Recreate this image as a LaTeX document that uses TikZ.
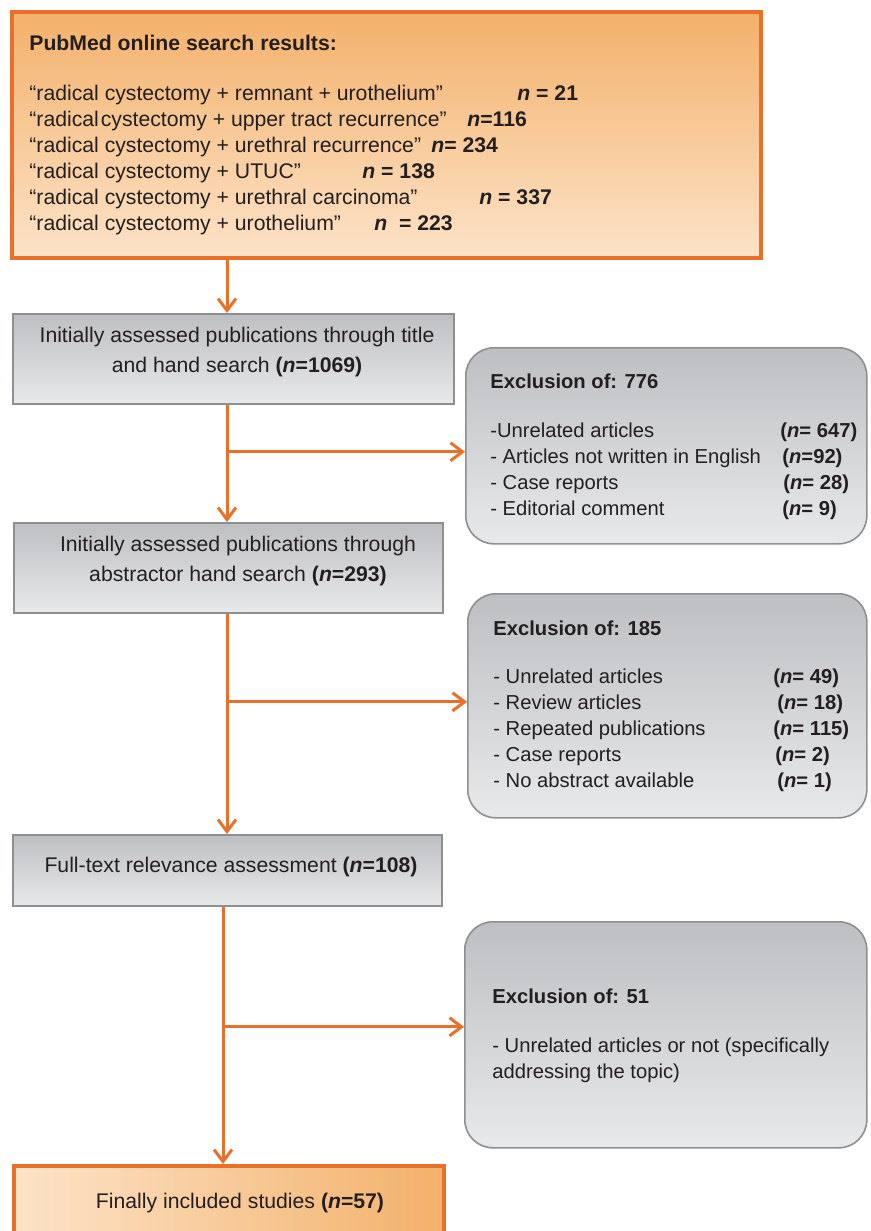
\documentclass[tikz,border=0pt]{standalone}
\usepackage{fontspec}
\setmainfont{Liberation Sans}
\usepackage{tikz}
\usetikzlibrary{arrows.meta}

\definecolor{floworange}{HTML}{E8702A}
\definecolor{ordark}{HTML}{F3B16B}
\definecolor{orlight}{HTML}{FDE3C8}
\definecolor{grdark}{HTML}{BEBFC2}
\definecolor{grlight}{HTML}{E8E9EB}
\definecolor{grline}{HTML}{8E8F91}
\definecolor{inktext}{HTML}{231F20}

\newcommand{\nn}{\textbf{\textit{n}}}

\tikzset{
  orbox/.style={draw=floworange, line width=2pt, inner sep=0pt, anchor=north west},
  grbox/.style={draw=grline, line width=0.8pt, top color=grdark, bottom color=grlight, inner sep=0pt, anchor=north west},
  exbox/.style={grbox, rounded corners=14pt},
  flow/.style={draw=floworange, line width=1.5pt, -{Straight Barb[length=6pt,width=9pt]}},
  lbl/.style={text=inktext, inner sep=0pt, font=\fontsize{10.6}{13}\selectfont},
  exlbl/.style={text=inktext, inner sep=0pt, font=\fontsize{10.1}{13}\selectfont},
}

\begin{document}
\begin{tikzpicture}[x=0.5pt,y=-0.5pt]
  \clip (0,0) rectangle (871,1231);

  % boxes
  \node[orbox, top color=ordark, bottom color=orlight, minimum width=374.5pt, minimum height=123pt] (pub) at (10,10) {};
  \node[grbox, minimum width=220.5pt, minimum height=45pt] (assess) at (12,313) {};
  \node[grbox, minimum width=214.5pt, minimum height=45pt] (abstr) at (13,522) {};
  \node[grbox, minimum width=214.5pt, minimum height=35.5pt] (fulltext) at (12,834) {};
  \node[orbox, left color=orlight, right color=ordark, minimum width=215pt, minimum height=50pt] (final) at (12,1164) {};
  \node[exbox, minimum width=200.5pt, minimum height=98pt] (ex1) at (465,347) {};
  \node[exbox, minimum width=199.5pt, minimum height=112pt] (ex2) at (467,593) {};
  \node[exbox, minimum width=201pt, minimum height=113pt] (ex3) at (464,921) {};

  % texts
  \node[lbl, anchor=base west] (pubtitle) at (29,50) {\textbf{PubMed online search results:}};
  \node[lbl, anchor=base west] (publist) at (29,100) {\begin{tabular}[t]{@{}l@{}}
    \makebox[244pt][l]{“radical cystectomy + remnant + urothelium”}\textbf{\textit{n} = 21}\\
    \makebox[219pt][l]{“radical\hspace{1pt}cystectomy + upper tract recurrence”}\textbf{\textit{n}=116}\\
    \makebox[201pt][l]{“radical cystectomy + urethral recurrence”}\textbf{\textit{n}= 234}\\
    \makebox[166.5pt][l]{“radical cystectomy + UTUC”}\textbf{\textit{n} = 138}\\
    \makebox[225pt][l]{“radical cystectomy + urethral carcinoma”}\textbf{\textit{n} = 337}\\
    \makebox[172.5pt][l]{“radical cystectomy + urothelium”}\textbf{\textit{n}\ \ = 223}
  \end{tabular}};
  \node[lbl, anchor=base, font=\fontsize{10.6}{15}\selectfont] (assesstxt) at (237,342) {\begin{tabular}[t]{@{}c@{}}
    Initially assessed publications through title\\
    and hand search \textbf{(\textit{n}=1069)}
  \end{tabular}};
  \node[lbl, anchor=base, font=\fontsize{10.6}{15}\selectfont] (abstrtxt) at (238,551) {\begin{tabular}[t]{@{}c@{}}
    Initially assessed publications through\\
    abstractor hand search \textbf{(\textit{n}=293)}
  \end{tabular}};
  \node[lbl, anchor=base] (fulltexttxt) at (231,872) {Full-text relevance assessment \textbf{(\textit{n}=108)}};
  \node[lbl, anchor=base] (finaltxt) at (240,1208) {Finally included studies \textbf{(\textit{n}=57)}};

  \node[exlbl, anchor=base west] (ex1title) at (490,388) {\textbf{Exclusion of: 776}};
  \node[exlbl, anchor=base west] (ex1list) at (490,437) {\begin{tabular}[t]{@{}l@{}}
    \makebox[145pt][l]{-Unrelated articles}\textbf{(\textit{n}= 647)}\\
    \makebox[146pt][l]{- Articles not written in English}\textbf{(\textit{n}=92)}\\
    \makebox[146.5pt][l]{- Case reports}\textbf{(\textit{n}= 28)}\\
    \makebox[146pt][l]{- Editorial comment}\textbf{(\textit{n}= 9)}
  \end{tabular}};
  \node[exlbl, anchor=base west] (ex2title) at (493,635) {\textbf{Exclusion of: 185}};
  \node[exlbl, anchor=base west] (ex2list) at (493,683) {\begin{tabular}[t]{@{}l@{}}
    \makebox[140pt][l]{- Unrelated articles}\textbf{(\textit{n}= 49)}\\
    \makebox[142pt][l]{- Review articles}\textbf{(\textit{n}= 18)}\\
    \makebox[140pt][l]{- Repeated publications}\textbf{(\textit{n}= 115)}\\
    \makebox[141pt][l]{- Case reports}\textbf{(\textit{n}= 2)}\\
    \makebox[142pt][l]{- No abstract available}\textbf{(\textit{n}= 1)}
  \end{tabular}};
  \node[exlbl, anchor=base west] (ex3title) at (492,1003) {\textbf{Exclusion of: 51}};
  \node[exlbl, anchor=base west] (ex3list) at (492,1052) {\begin{tabular}[t]{@{}l@{}}
    - Unrelated articles or not (specifically\\
    addressing the topic)
  \end{tabular}};

  % connectors
  \coordinate (sp1) at (227,0);
  \coordinate (sp2) at (223,0);
  \coordinate (br1) at ([yshift=-3pt]ex1.west);
  \coordinate (br2) at ([yshift=2pt]ex2.west);
  \coordinate (br3) at ([yshift=4pt]ex3.west);
  \draw[flow] (sp1 |- pub.south) -- (sp1 |- assess.north);
  \draw[flow] (sp1 |- assess.south) -- (sp1 |- abstr.north);
  \draw[flow] (sp1 |- br1) -- (br1);
  \draw[flow] (sp1 |- abstr.south) -- (sp1 |- fulltext.north);
  \draw[flow] (sp1 |- br2) -- (br2);
  \draw[flow] (sp2 |- fulltext.south) -- (sp2 |- final.north);
  \draw[flow] (sp2 |- br3) -- (br3);
\end{tikzpicture}
\end{document}
